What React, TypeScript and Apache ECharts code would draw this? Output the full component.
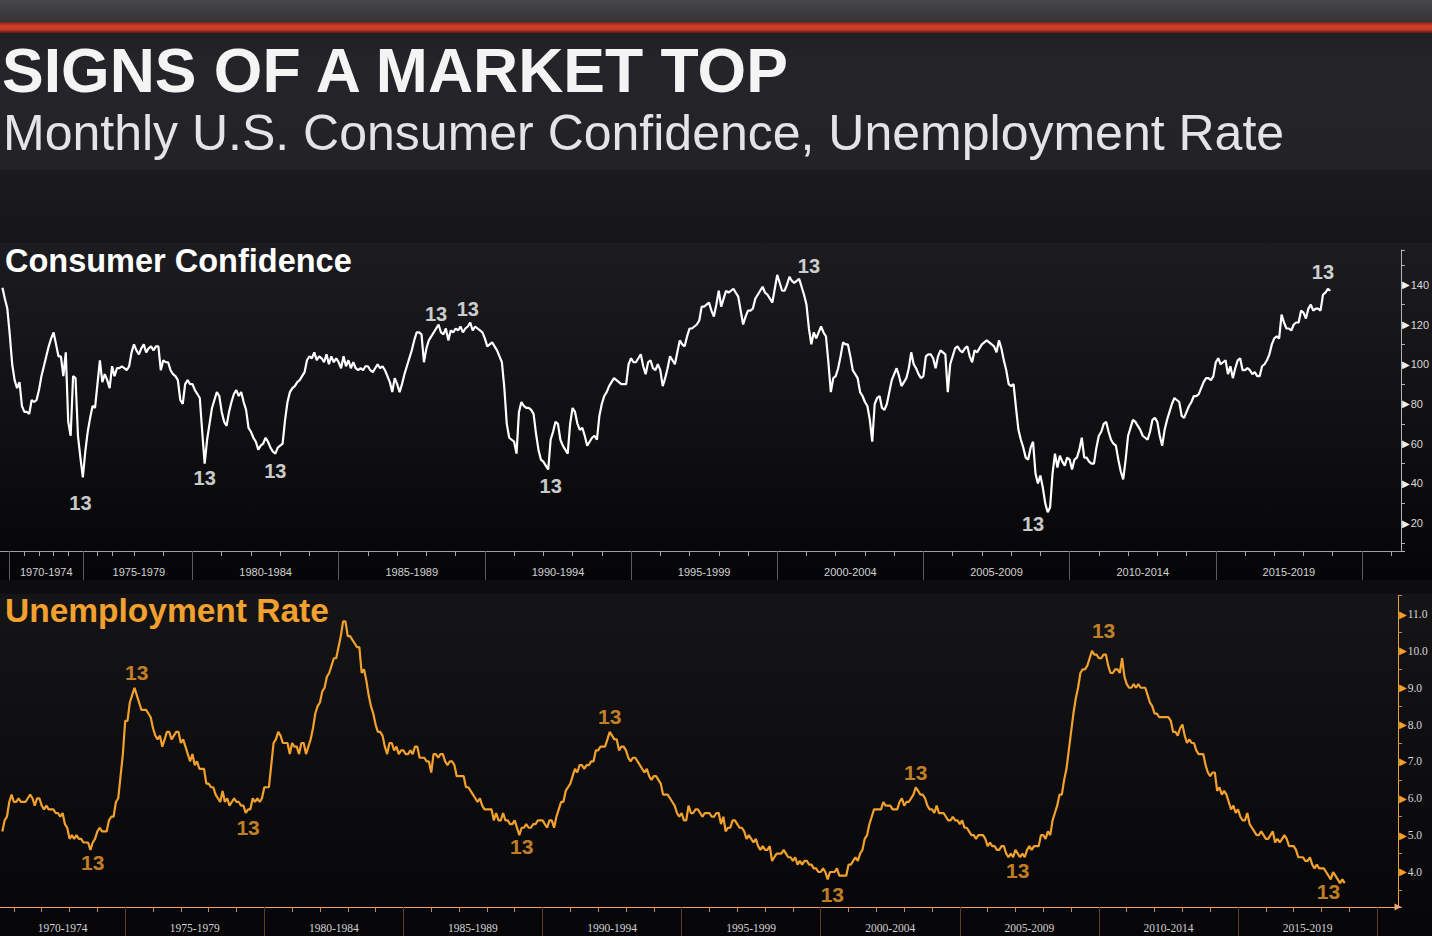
import React, { useEffect, useRef } from 'react';
import * as echarts from 'echarts';

// ---------------- Consumer Confidence (bi-monthly until mid-1977, monthly after) ----------------
const cc1969 = [138.5, 133, 128]; // Aug, Oct, Dec
const cc1970 = [115, 100, 92, 88, 91, 79];
const cc1971 = [76, 76, 75, 82, 81, 82];
const cc1972 = [87, 94, 99, 104, 109, 113];
const cc1973 = [116, 110, 104, 104, 94, 106];
const cc1974 = [71, 64, 94, 93, 64, 53];
const cc1975 = [43, 56, 66, 73, 79, 78];
const cc1976 = [90, 102, 91, 95, 92, 88];
const cc1977 = [99, 94, 98, 98, 99, 98, 97, 99, 106]; // Feb, Apr, Jun, Jul..Dec
const cc1978 = [110, 107, 105, 108, 110, 106, 108, 109, 107, 109, 109, 97];
const cc1979 = [102, 101, 101, 97, 95, 94, 92, 82, 80, 90, 92, 90];
const cc1980 = [90, 87, 85, 83, 66, 50, 62, 70, 78, 82, 86, 84];
const cc1981 = [76, 71, 69, 76, 81, 85, 87, 84, 86, 81, 77, 68];
const cc1982 = [66, 63, 61, 57, 59, 60, 63, 61, 58, 56, 55, 58];
const cc1983 = [59, 60, 72, 81, 86, 88, 89, 91, 92, 94, 96, 102];
const cc1984 = [104, 103, 106, 102, 104, 103, 101, 105, 100, 104, 101, 103];
const cc1985 = [101, 98, 104, 99, 102, 98, 101, 98, 97, 98, 97, 99];
const cc1986 = [99, 97, 96, 98, 100, 98, 99, 97, 94, 91, 86, 93];
const cc1987 = [90, 86, 90, 95, 99, 103, 107, 112, 116, 116, 115, 101];
const cc1988 = [108, 112, 114, 116, 118, 120, 116, 115, 118, 112, 117, 116];
const cc1989 = [118, 117, 119, 116, 118, 119, 121, 117, 119, 118, 117, 116];
const cc1990 = [113, 109, 110, 111, 109, 107, 104, 101, 88, 70, 63, 62];
const cc1991 = [61, 55, 76, 81, 79, 78, 78, 77, 75, 65, 57, 52];
const cc1992 = [51, 49, 47, 62, 66, 71, 70, 62, 59, 57, 55, 70];
const cc1993 = [78, 76, 70, 67, 68, 64, 59, 61, 63, 64, 62, 74];
const cc1994 = [80, 84, 86, 89, 91, 93, 92, 91, 90, 90, 90, 100];
const cc1995 = [103, 101, 101, 103, 105, 99, 95, 101, 102, 98, 97, 100];
const cc1996 = [97, 89, 93, 98, 104, 102, 100, 106, 112, 110, 109, 114];
const cc1997 = [118, 118, 119, 120, 122, 129, 129, 130, 131, 127, 124, 130];
const cc1998 = [137, 129, 133, 137, 136, 137, 138, 136, 134, 127, 120, 124];
const cc1999 = [127, 127, 128, 133, 135, 137, 139, 136, 135, 133, 131, 138];
const cc2000 = [145, 141, 137, 137, 140, 144, 142, 141, 142, 143, 139, 135];
const cc2001 = [130, 118, 110, 116, 113, 116, 119, 116, 114, 101, 86, 93];
const cc2002 = [94, 98, 104, 111, 110, 110, 104, 97, 95, 93, 86, 84];
const cc2003 = [81, 79, 72, 61, 80, 83, 84, 78, 77, 80, 86, 92];
const cc2004 = [95, 98, 94, 89, 91, 93, 98, 106, 100, 98, 95, 93];
const cc2005 = [94, 104, 105, 105, 103, 98, 104, 107, 106, 105, 86, 100];
const cc2006 = [104, 108, 109, 107, 106, 108, 109, 104, 101, 107, 106, 108];
const cc2007 = [110, 111, 112, 111, 110, 109, 106, 112, 108, 102, 97, 90];
const cc2008 = [89, 90, 78, 67, 62, 58, 53, 52, 58, 61, 45, 40];
const cc2009 = [44, 38, 30, 25.5, 28, 45, 55, 48, 54, 51, 49, 53];
const cc2010 = [52, 47, 52, 53, 57, 63, 53, 53, 51, 50, 50, 58];
const cc2011 = [64, 66, 70, 71, 66, 62, 60, 59, 52, 46, 42, 52];
const cc2012 = [64, 68, 72, 71, 69, 67, 64, 63, 62, 66, 72, 73];
const cc2013 = [71, 64, 59, 67, 72, 76, 80, 83, 82, 81, 74, 73];
const cc2014 = [76, 79, 81, 84, 84, 85, 88, 91, 93, 93, 92, 94];
const cc2015 = [101, 103, 100, 101, 102, 95, 99, 93, 98, 102, 103, 97];
const cc2016 = [97, 98, 97, 95, 96, 94, 94, 99, 100, 102, 105, 110];
const cc2017 = [113, 114, 113, 125, 121, 118, 118, 117, 120, 121, 121, 127];
const cc2018 = [126, 123, 128, 130, 127, 128, 128, 127, 135, 136, 138, 137];

// ---------------- Unemployment rate (monthly, Aug 1970 - Nov 2018) ----------------
const ur1970 = [5.1, 5.4, 5.5, 5.9, 6.1]; // Aug..Dec
const ur1971 = [5.9, 5.9, 6.0, 5.9, 5.9, 5.9, 6.0, 6.1, 6.0, 5.8, 6.0, 6.0];
const ur1972 = [5.8, 5.7, 5.8, 5.7, 5.7, 5.7, 5.6, 5.6, 5.5, 5.6, 5.3, 5.2];
const ur1973 = [4.9, 5.0, 4.9, 5.0, 4.9, 4.9, 4.8, 4.8, 4.8, 4.6, 4.8, 4.9];
const ur1974 = [5.1, 5.2, 5.1, 5.1, 5.1, 5.4, 5.5, 5.5, 5.9, 6.0, 6.6, 7.2];
const ur1975 = [8.1, 8.1, 8.6, 8.8, 9.0, 8.8, 8.6, 8.4, 8.4, 8.4, 8.3, 8.2];
const ur1976 = [7.9, 7.7, 7.6, 7.7, 7.4, 7.6, 7.8, 7.8, 7.6, 7.7, 7.8, 7.8];
const ur1977 = [7.5, 7.6, 7.4, 7.2, 7.0, 7.2, 6.9, 7.0, 6.8, 6.8, 6.8, 6.4];
const ur1978 = [6.4, 6.3, 6.3, 6.1, 6.0, 5.9, 6.2, 5.9, 6.0, 5.8, 5.9, 6.0];
const ur1979 = [5.9, 5.9, 5.8, 5.8, 5.6, 5.7, 5.7, 6.0, 5.9, 6.0, 5.9, 6.0];
const ur1980 = [6.3, 6.3, 6.3, 6.9, 7.5, 7.6, 7.8, 7.7, 7.5, 7.5, 7.5, 7.2];
const ur1981 = [7.5, 7.4, 7.4, 7.2, 7.5, 7.5, 7.2, 7.4, 7.6, 7.9, 8.3, 8.5];
const ur1982 = [8.6, 8.9, 9.0, 9.3, 9.4, 9.6, 9.8, 9.8, 10.1, 10.4, 10.8, 10.8];
const ur1983 = [10.4, 10.4, 10.3, 10.2, 10.1, 10.1, 9.4, 9.5, 9.2, 8.8, 8.5, 8.3];
const ur1984 = [8.0, 7.8, 7.8, 7.7, 7.4, 7.2, 7.5, 7.5, 7.3, 7.4, 7.2, 7.3];
const ur1985 = [7.3, 7.2, 7.2, 7.3, 7.2, 7.4, 7.4, 7.1, 7.1, 7.1, 7.0, 7.0];
const ur1986 = [6.7, 7.2, 7.2, 7.1, 7.2, 7.2, 7.0, 6.9, 7.0, 7.0, 6.9, 6.6];
const ur1987 = [6.6, 6.6, 6.6, 6.3, 6.3, 6.2, 6.1, 6.0, 5.9, 6.0, 5.8, 5.7];
const ur1988 = [5.7, 5.7, 5.7, 5.4, 5.6, 5.4, 5.4, 5.6, 5.4, 5.4, 5.3, 5.3];
const ur1989 = [5.4, 5.2, 5.0, 5.2, 5.2, 5.3, 5.2, 5.2, 5.3, 5.3, 5.4, 5.4];
const ur1990 = [5.4, 5.3, 5.2, 5.4, 5.4, 5.2, 5.5, 5.7, 5.9, 5.9, 6.2, 6.3];
const ur1991 = [6.4, 6.6, 6.8, 6.7, 6.9, 6.9, 6.8, 6.9, 6.9, 7.0, 7.0, 7.3];
const ur1992 = [7.3, 7.4, 7.4, 7.4, 7.6, 7.8, 7.7, 7.6, 7.6, 7.3, 7.4, 7.4];
const ur1993 = [7.3, 7.1, 7.0, 7.1, 7.1, 7.0, 6.9, 6.8, 6.7, 6.8, 6.6, 6.5];
const ur1994 = [6.6, 6.6, 6.5, 6.4, 6.1, 6.1, 6.1, 6.0, 5.9, 5.8, 5.6, 5.5];
const ur1995 = [5.6, 5.4, 5.4, 5.8, 5.6, 5.6, 5.7, 5.7, 5.6, 5.5, 5.6, 5.6];
const ur1996 = [5.6, 5.5, 5.5, 5.6, 5.6, 5.3, 5.5, 5.1, 5.2, 5.2, 5.4, 5.4];
const ur1997 = [5.3, 5.2, 5.2, 5.1, 4.9, 5.0, 4.9, 4.8, 4.9, 4.7, 4.6, 4.7];
const ur1998 = [4.6, 4.6, 4.7, 4.3, 4.4, 4.5, 4.5, 4.5, 4.6, 4.5, 4.4, 4.4];
const ur1999 = [4.3, 4.4, 4.2, 4.3, 4.2, 4.3, 4.3, 4.2, 4.2, 4.1, 4.1, 4.0];
const ur2000 = [4.0, 4.1, 4.0, 3.8, 4.0, 4.0, 4.0, 4.1, 3.9, 3.9, 3.9, 3.9];
const ur2001 = [4.2, 4.2, 4.3, 4.4, 4.3, 4.5, 4.6, 4.9, 5.0, 5.3, 5.5, 5.7];
const ur2002 = [5.7, 5.7, 5.7, 5.9, 5.8, 5.8, 5.8, 5.7, 5.7, 5.7, 5.9, 6.0];
const ur2003 = [5.8, 5.9, 5.9, 6.0, 6.1, 6.3, 6.2, 6.1, 6.1, 6.0, 5.8, 5.7];
const ur2004 = [5.7, 5.6, 5.8, 5.6, 5.6, 5.6, 5.5, 5.4, 5.4, 5.5, 5.4, 5.4];
const ur2005 = [5.3, 5.4, 5.2, 5.2, 5.1, 5.0, 5.0, 4.9, 5.0, 5.0, 5.0, 4.9];
const ur2006 = [4.7, 4.8, 4.7, 4.7, 4.6, 4.6, 4.7, 4.7, 4.5, 4.4, 4.5, 4.4];
const ur2007 = [4.6, 4.5, 4.4, 4.5, 4.4, 4.6, 4.7, 4.6, 4.7, 4.7, 4.7, 5.0];
const ur2008 = [5.0, 4.9, 5.1, 5.0, 5.4, 5.6, 5.8, 6.1, 6.1, 6.5, 6.8, 7.3];
const ur2009 = [7.8, 8.3, 8.7, 9.0, 9.4, 9.5, 9.5, 9.6, 9.8, 10.0, 9.9, 9.9];
const ur2010 = [9.8, 9.8, 9.9, 9.9, 9.6, 9.4, 9.4, 9.5, 9.5, 9.4, 9.8, 9.3];
const ur2011 = [9.1, 9.0, 9.0, 9.1, 9.0, 9.1, 9.0, 9.0, 9.0, 8.8, 8.6, 8.5];
const ur2012 = [8.3, 8.3, 8.2, 8.2, 8.2, 8.2, 8.2, 8.1, 7.8, 7.8, 7.7, 7.9];
const ur2013 = [8.0, 7.7, 7.5, 7.6, 7.5, 7.5, 7.3, 7.2, 7.2, 7.2, 6.9, 6.7];
const ur2014 = [6.6, 6.7, 6.7, 6.2, 6.3, 6.1, 6.2, 6.1, 5.9, 5.7, 5.8, 5.6];
const ur2015 = [5.7, 5.5, 5.4, 5.4, 5.6, 5.3, 5.2, 5.1, 5.0, 5.0, 5.1, 5.0];
const ur2016 = [4.9, 4.9, 5.0, 5.1, 4.8, 4.9, 4.8, 4.9, 5.0, 4.9, 4.7, 4.7];
const ur2017 = [4.7, 4.6, 4.4, 4.4, 4.4, 4.3, 4.3, 4.4, 4.2, 4.1, 4.2, 4.1];
const ur2018 = [4.1, 4.1, 4.0, 3.9, 3.8, 4.0, 3.9, 3.8, 3.7, 3.8, 3.7]; // Jan..Nov

// ---------------- Labels / annotations ----------------
const periodLabels = ['1970-1974', '1975-1979', '1980-1984', '1985-1989', '1990-1994', '1995-1999', '2000-2004', '2005-2009', '2010-2014', '2015-2019'];
// "13" count annotations: [observation, label position on value scale]
const ccMarks: [string, number][] = [
  ['1974-12', 30.2], ['1980-06', 42.8], ['1982-11', 46.3], ['1988-05', 125.4], ['1989-06', 127.9],
  ['1992-04', 38.7], ['2001-02', 149.6], ['2008-10', 19.6], ['2018-09', 146.5],
];
const urMarks: [string, number][] = [
  ['1973-11', 4.27], ['1975-06', 9.4], ['1979-06', 5.22], ['1989-04', 4.7], ['1992-06', 8.23],
  ['2000-06', 3.38], ['2003-06', 6.69], ['2007-02', 4.05], ['2010-03', 10.54], ['2018-04', 3.46],
];

const pad = (m: number) => (m < 10 ? '0' + m : '' + m);

function buildCcDates(): string[] {
  const d: string[] = [];
  for (let m = 6; m <= 12; m += 2) d.push(`1969-${pad(m)}`);
  for (let y = 1970; y <= 1976; y++) for (let m = 2; m <= 12; m += 2) d.push(`${y}-${pad(m)}`);
  for (const m of [2, 4, 6, 7, 8, 9, 10, 11, 12]) d.push(`1977-${pad(m)}`);
  for (let y = 1978; y <= 2021; y++) for (let m = 1; m <= 12; m++) {
    if (y === 2021 && m > 5) break;
    d.push(`${y}-${pad(m)}`);
  }
  return d;
}
function buildUrDates(): string[] {
  const d: string[] = [];
  for (let y = 1970; y <= 2020; y++) for (let m = 1; m <= 12; m++) {
    if (y === 1970 && m < 7) continue;
    if (y === 2020 && m > 10) break;
    d.push(`${y}-${pad(m)}`);
  }
  return d;
}

const ccDates = buildCcDates();
const urDates = buildUrDates();
const ccValues: (number | null)[] = [null, ...cc1969, ...cc1970, ...cc1971, ...cc1972, ...cc1973, ...cc1974, ...cc1975, ...cc1976, ...cc1977,
  ...cc1978, ...cc1979, ...cc1980, ...cc1981, ...cc1982, ...cc1983, ...cc1984, ...cc1985, ...cc1986, ...cc1987, ...cc1988, ...cc1989,
  ...cc1990, ...cc1991, ...cc1992, ...cc1993, ...cc1994, ...cc1995, ...cc1996, ...cc1997, ...cc1998, ...cc1999, ...cc2000, ...cc2001,
  ...cc2002, ...cc2003, ...cc2004, ...cc2005, ...cc2006, ...cc2007, ...cc2008, ...cc2009, ...cc2010, ...cc2011, ...cc2012, ...cc2013,
  ...cc2014, ...cc2015, ...cc2016, ...cc2017, ...cc2018];
const urValues: (number | null)[] = [null, ...ur1970, ...ur1971, ...ur1972, ...ur1973, ...ur1974, ...ur1975, ...ur1976, ...ur1977, ...ur1978,
  ...ur1979, ...ur1980, ...ur1981, ...ur1982, ...ur1983, ...ur1984, ...ur1985, ...ur1986, ...ur1987, ...ur1988, ...ur1989, ...ur1990,
  ...ur1991, ...ur1992, ...ur1993, ...ur1994, ...ur1995, ...ur1996, ...ur1997, ...ur1998, ...ur1999, ...ur2000, ...ur2001, ...ur2002,
  ...ur2003, ...ur2004, ...ur2005, ...ur2006, ...ur2007, ...ur2008, ...ur2009, ...ur2010, ...ur2011, ...ur2012, ...ur2013, ...ur2014,
  ...ur2015, ...ur2016, ...ur2017, ...ur2018];

function axisSets(dates: string[]) {
  const yearStart = new Set<number>();
  const fiveStart = new Set<number>();
  const firstOfYear: Record<string, number> = {};
  let prev = '';
  dates.forEach((d, i) => {
    const y = d.slice(0, 4);
    if (y !== prev) {
      firstOfYear[y] = i;
      if (prev !== '') {
        yearStart.add(i);
        if (+y % 5 === 0) fiveStart.add(i);
      }
      prev = y;
    }
  });
  const mids = new Map<number, string>();
  periodLabels.forEach((p) => {
    const y0 = +p.slice(0, 4);
    const a = firstOfYear[String(y0)];
    const b = firstOfYear[String(y0 + 5)];
    if (a != null && b != null) mids.set(Math.round((a + b) / 2), p);
  });
  return { yearStart, fiveStart, mids };
}

const W = 1432;
const H = 936;
const ORANGE = '#f2a02e';

export default function App() {
  const ref = useRef<HTMLDivElement>(null);
  useEffect(() => {
    if (!ref.current) return;
    const chart = echarts.init(ref.current, null, { renderer: 'svg' });
    const cs = axisSets(ccDates);
    const us = axisSets(urDates);
    const lg = (stops: [number, string][]) =>
      new echarts.graphic.LinearGradient(0, 0, 0, 1, stops.map(([o, c]) => ({ offset: o, color: c })));
    const sans = '"Liberation Sans", Arial, sans-serif';
    const serif = '"Liberation Serif", "DejaVu Serif", serif';

    const option: any = {
      animation: false,
      backgroundColor: '#0a0a0c',
      graphic: {
        elements: [
          { type: 'rect', z: -100, shape: { x: 0, y: 0, width: W, height: 22 }, style: { fill: lg([[0, '#47474a'], [1, '#343437']]) } },
          { type: 'rect', z: -100, shape: { x: 0, y: 22, width: W, height: 11 }, style: { fill: lg([[0, '#7a2216'], [0.35, '#d0402a'], [0.7, '#c23a25'], [1, '#5a1a12']]) } },
          { type: 'rect', z: -100, shape: { x: 0, y: 33, width: W, height: 137 }, style: { fill: lg([[0, '#1f1f23'], [0.2, '#252529'], [1, '#232327']]) } },
          { type: 'rect', z: -100, shape: { x: 0, y: 170, width: W, height: 73 }, style: { fill: lg([[0, '#1b1b1f'], [1, '#161619']]) } },
          { type: 'rect', z: -100, shape: { x: 0, y: 243, width: W, height: 337 }, style: { fill: lg([[0, '#1c1c20'], [0.5, '#111114'], [1, '#050507']]) } },
          { type: 'rect', z: -100, shape: { x: 0, y: 580, width: W, height: 14 }, style: { fill: '#0d0d0f' } },
          { type: 'rect', z: -100, shape: { x: 0, y: 594, width: W, height: 342 }, style: { fill: lg([[0, '#151518'], [0.6, '#0c0c0e'], [1, '#060608']]) } },
          { type: 'text', z: 100, x: 2, y: 70, style: { text: 'SIGNS OF A MARKET TOP', fill: '#f4f4f4', fontFamily: sans, fontWeight: 'bold', fontSize: 62.5, verticalAlign: 'middle' } },
          { type: 'text', z: 100, x: 3, y: 133, style: { text: 'Monthly U.S. Consumer Confidence, Unemployment Rate', fill: '#e4e4e6', fontFamily: sans, fontWeight: 'normal', fontSize: 50, verticalAlign: 'middle' } },
          { type: 'text', z: 100, x: 5, y: 261, style: { text: 'Consumer Confidence', fill: '#ffffff', fontFamily: sans, fontWeight: 'bold', fontSize: 32.5, verticalAlign: 'middle' } },
          { type: 'text', z: 100, x: 5, y: 610, style: { text: 'Unemployment Rate', fill: ORANGE, fontFamily: sans, fontWeight: 'bold', fontSize: 33.5, verticalAlign: 'middle' } },
        ],
      },
      grid: [
        { left: 0, right: W - 1401, top: 250, height: 301 },
        { left: 0, right: W - 1398, top: 595.6, height: 311.4 },
      ],
      xAxis: [
        {
          type: 'category', gridIndex: 0, position: 'bottom', data: ccDates, boundaryGap: false,
          axisLine: { show: true, onZero: false, lineStyle: { color: '#a0a0a0', width: 1 } },
          axisTick: { show: true, length: 5, interval: (i: number) => cs.yearStart.has(i), lineStyle: { color: '#a8a8a8' } },
          axisLabel: { show: false }, splitLine: { show: false },
        },
        {
          type: 'category', gridIndex: 0, position: 'bottom', data: ccDates, boundaryGap: false,
          axisLine: { show: false, onZero: false },
          axisTick: { show: true, length: 29, interval: (i: number) => cs.fiveStart.has(i), lineStyle: { color: '#5c5c5c' } },
          axisLabel: {
            show: true, interval: (i: number) => cs.mids.has(i), formatter: (_v: string, i: number) => cs.mids.get(i) || '',
            color: '#d2d2d2', fontSize: 11, fontFamily: sans, margin: 15,
          },
          splitLine: { show: false },
        },
        {
          type: 'category', gridIndex: 1, position: 'bottom', data: urDates, boundaryGap: false,
          axisLine: { show: true, onZero: false, lineStyle: { color: '#e8a676', width: 1 }, symbol: ['none', 'triangle'], symbolSize: [7, 7] },
          axisTick: { show: true, length: 5, interval: (i: number) => us.yearStart.has(i), lineStyle: { color: '#c98a5a' } },
          axisLabel: { show: false }, splitLine: { show: false },
        },
        {
          type: 'category', gridIndex: 1, position: 'bottom', data: urDates, boundaryGap: false,
          axisLine: { show: false, onZero: false },
          axisTick: { show: true, length: 29, interval: (i: number) => us.fiveStart.has(i), lineStyle: { color: '#5e3f1c' } },
          axisLabel: {
            show: true, interval: (i: number) => us.mids.has(i), formatter: (_v: string, i: number) => us.mids.get(i) || '',
            color: '#d2d2d2', fontSize: 11.5, fontFamily: serif, margin: 15,
          },
          splitLine: { show: false },
        },
      ],
      yAxis: [
        {
          type: 'value', gridIndex: 0, position: 'right', min: 6, max: 157.5, minInterval: 20, maxInterval: 20,
          axisLine: { show: true, lineStyle: { color: '#b4b4b4' } },
          axisTick: { show: false }, splitLine: { show: false },
          axisLabel: {
            margin: 1,
            formatter: (v: number) => (Math.abs(v % 20) < 1e-6 ? `{t|▶}{v|${v}}` : ''),
            rich: { t: { fontSize: 10, color: '#f0f0f0', fontFamily: 'DejaVu Sans' }, v: { fontSize: 11, color: '#d8d8d8', fontFamily: sans, padding: [0, 0, 0, 1] } },
          },
        },
        {
          type: 'value', gridIndex: 0, position: 'right', min: 6, max: 157.5, minInterval: 10, maxInterval: 10,
          axisLine: { show: false }, axisTick: { show: true, length: 4, lineStyle: { color: '#b4b4b4' } },
          axisLabel: { show: false }, splitLine: { show: false },
        },
        {
          type: 'value', gridIndex: 1, position: 'right', min: 3.05, max: 11.5, minInterval: 1, maxInterval: 1,
          axisLine: { show: true, lineStyle: { color: '#e8a040' } },
          axisTick: { show: false }, splitLine: { show: false },
          axisLabel: {
            margin: 1,
            formatter: (v: number) => (Math.abs(v - Math.round(v)) < 1e-6 ? `{t|▶}{v|${v.toFixed(1)}}` : ''),
            rich: { t: { fontSize: 10, color: ORANGE, fontFamily: 'DejaVu Sans' }, v: { fontSize: 11.5, color: '#d8d8d8', fontFamily: serif, padding: [0, 0, 0, 1] } },
          },
        },
        {
          type: 'value', gridIndex: 1, position: 'right', min: 3.05, max: 11.5, minInterval: 0.5, maxInterval: 0.5,
          axisLine: { show: false }, axisTick: { show: true, length: 4, lineStyle: { color: '#c98a40' } },
          axisLabel: { show: false }, splitLine: { show: false },
        },
      ],
      series: [
        {
          type: 'line', name: 'Consumer Confidence', xAxisIndex: 0, yAxisIndex: 0, data: ccValues,
          showSymbol: false, symbol: 'none', lineStyle: { color: '#ffffff', width: 2.2 }, silent: true, z: 3,
        },
        {
          type: 'scatter', xAxisIndex: 0, yAxisIndex: 0, data: ccMarks, symbol: 'circle', symbolSize: 1,
          itemStyle: { color: 'rgba(0,0,0,0)' }, silent: true, z: 4,
          label: { show: true, position: 'inside', formatter: '13', color: '#ffffff', fontSize: 20, fontWeight: 'bold', fontFamily: sans },
        },
        {
          type: 'line', name: 'Unemployment Rate', xAxisIndex: 2, yAxisIndex: 2, data: urValues,
          showSymbol: false, symbol: 'none', lineStyle: { color: ORANGE, width: 2.2 }, silent: true, z: 3,
        },
        {
          type: 'scatter', xAxisIndex: 2, yAxisIndex: 2, data: urMarks, symbol: 'circle', symbolSize: 1,
          itemStyle: { color: 'rgba(0,0,0,0)' }, silent: true, z: 4,
          label: { show: true, position: 'inside', formatter: '13', color: ORANGE, fontSize: 21, fontWeight: 'bold', fontFamily: sans },
        },
      ],
    };
    chart.setOption(option);
    return () => chart.dispose();
  }, []);
  return <div ref={ref} style={{ position: 'fixed', left: 0, top: 0, width: W, height: H }} />;
}
